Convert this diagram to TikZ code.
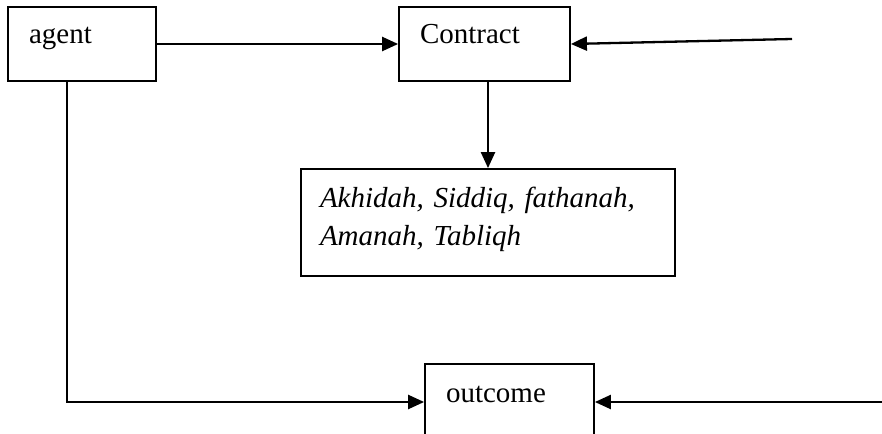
\documentclass[tikz,border=0pt]{standalone}
\usepackage{fontspec}
\setmainfont{Liberation Serif}
\usetikzlibrary{positioning,arrows.meta}
\tikzstyle{block} = [draw, line width=1.8pt, inner xsep=21pt, align=left, text height=15pt, text depth=15pt, font=\fontsize{29}{38}\selectfont]
\tikzstyle{link} = [line width=2.3pt, -{Triangle[length=16pt,width=14pt]}]

\begin{document}
\begin{tikzpicture}[x=1pt,y=-1pt]
        \clip (0,0) rectangle (882,433);
        %Blocks
        \node [block, minimum width=148pt, minimum height=74pt, text width=106pt] (agent) at (82,44) {agent};
        \node [block, minimum width=171pt, minimum height=74pt, text width=129pt] (contract) at (484.5,44) {Contract};
        \node [block, minimum width=374pt, minimum height=107pt, inner xsep=19pt, text width=336pt, text height=20pt, text depth=51pt] (values) at (488,222.5) {\itshape Akhidah, Siddiq, fathanah,\\ \itshape Amanah, Tabliqh};
        \node [block, minimum width=169pt, minimum height=76pt, text width=127pt] (outcome) at (509.5,402) {outcome};
        \coordinate (in1) at (792,39);
        \coordinate (in2) at (882,402);
        %Arrows
        \draw[link] (agent.east) -- (contract.west);
        \draw[link] (in1) -- (contract.east);
        \draw[link] (contract.south -| values.north) -- (values.north);
        \draw[link] ([xshift=-15pt]agent.south) |- (outcome.west);
        \draw[link] (in2) -- (outcome.east);
    \end{tikzpicture}
\end{document}
